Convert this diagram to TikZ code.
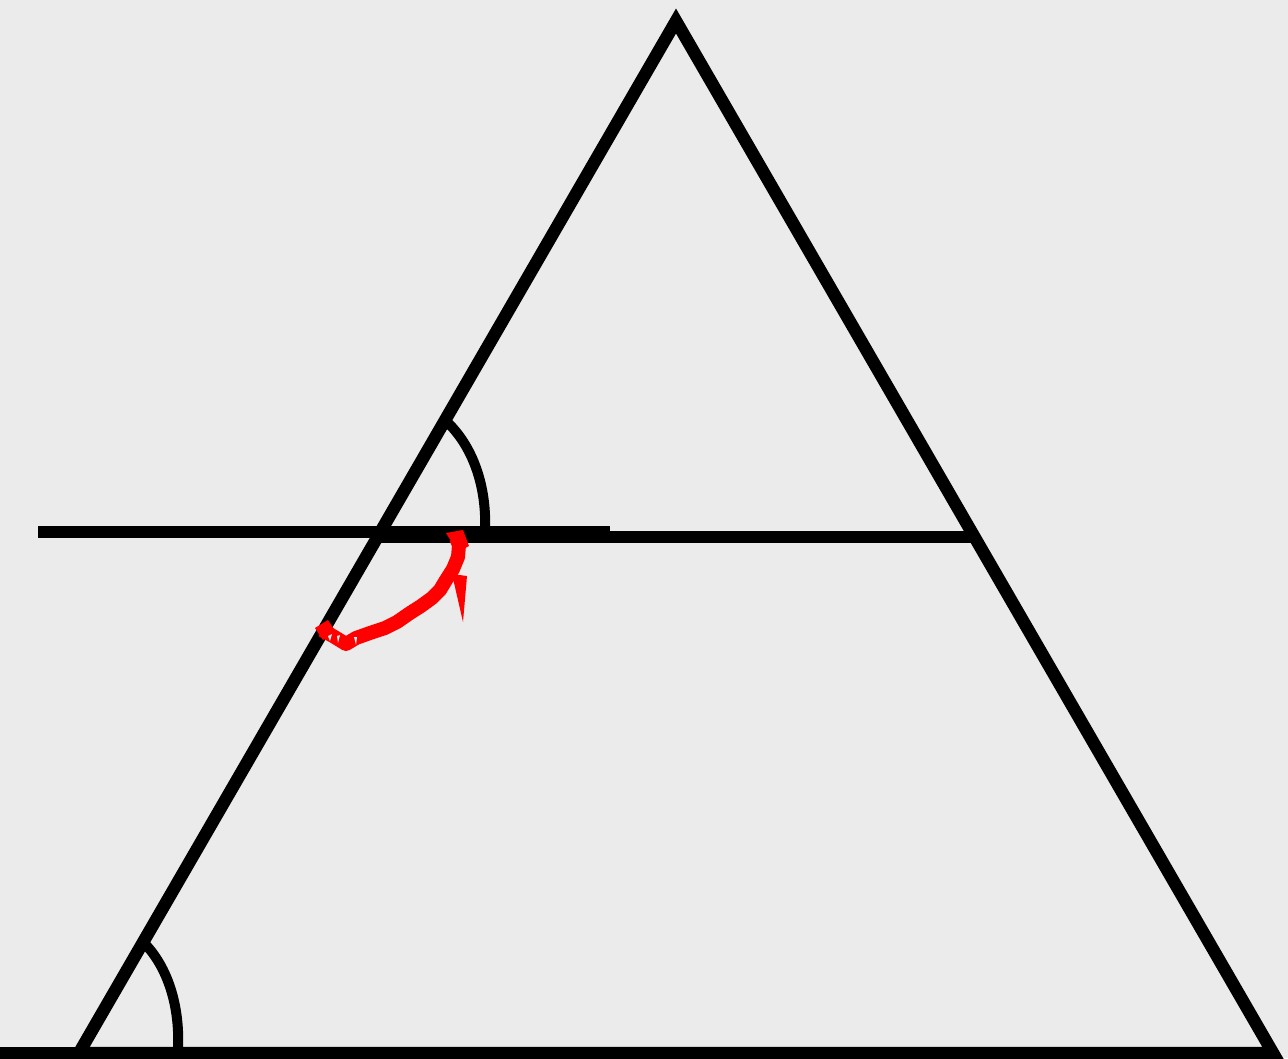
\documentclass[tikz,border=0pt]{standalone}
\definecolor{bg}{HTML}{EBEBEB}
\definecolor{pen}{HTML}{FF0000}
\tikzset{
  thick line/.style={line width=12.5pt, draw=black},
  angle arc/.style={line width=10pt, draw=black},
  red stroke/.style={line width=14pt, draw=pen, line join=round},
}
\begin{document}
\begin{tikzpicture}[x=1pt,y=-1pt]
\useasboundingbox (0,0) rectangle (1288,1058);
\fill[bg] (0,0) rectangle (1288,1058);
% triangle vertices
\coordinate (A) at (676,21);
\coordinate (B) at (79,1053);
\coordinate (C) at (1273,1053);
\coordinate (L0) at (0,1053);
% horizontal lines
\coordinate (H1a) at (38,532);
\coordinate (H1b) at (610,532);
\coordinate (H2a) at (377,537);
\coordinate (H2b) at (975,537);
% triangle
\draw[thick line, line join=miter] (A) -- (B) -- (C) -- cycle;
\draw[line width=13pt] (L0) -- (B);
\draw[thick line] (H1a) -- (H1b);
\draw[thick line] (H2a) -- (H2b);
% angle arcs
\draw[angle arc] (446,421) .. controls (472,445) and (487,485) .. (485,531);
\draw[angle arc] (141,940) .. controls (166,963) and (180,1003) .. (178,1048);
% red freehand arrow
\draw[red stroke] (322,630) -- (333,636) -- (346,644) -- (356,638) -- (370,633)
  -- (385,628) -- (397,622) -- (410,613) -- (421,606) -- (432,598) -- (440,590)
  -- (446,580) -- (453,569) -- (458,557) -- (459,545) -- (456,538);
\fill[pen] (452,574) -- (467,576) -- (463,622) -- cycle;
\fill[pen] (446,533) -- (463,530) -- (469,546) -- (458,552) -- cycle;
\fill[pen] (315,628) -- (328,620) -- (336,632) -- (323,640) -- cycle;
\fill[bg] (328,636) -- (332,634) -- (330,641) -- cycle;
\fill[bg] (337,636) -- (340,635) -- (338,643) -- cycle;
\fill[bg] (354,637) -- (357,637) -- (356,645) -- cycle;
\end{tikzpicture}
\end{document}
